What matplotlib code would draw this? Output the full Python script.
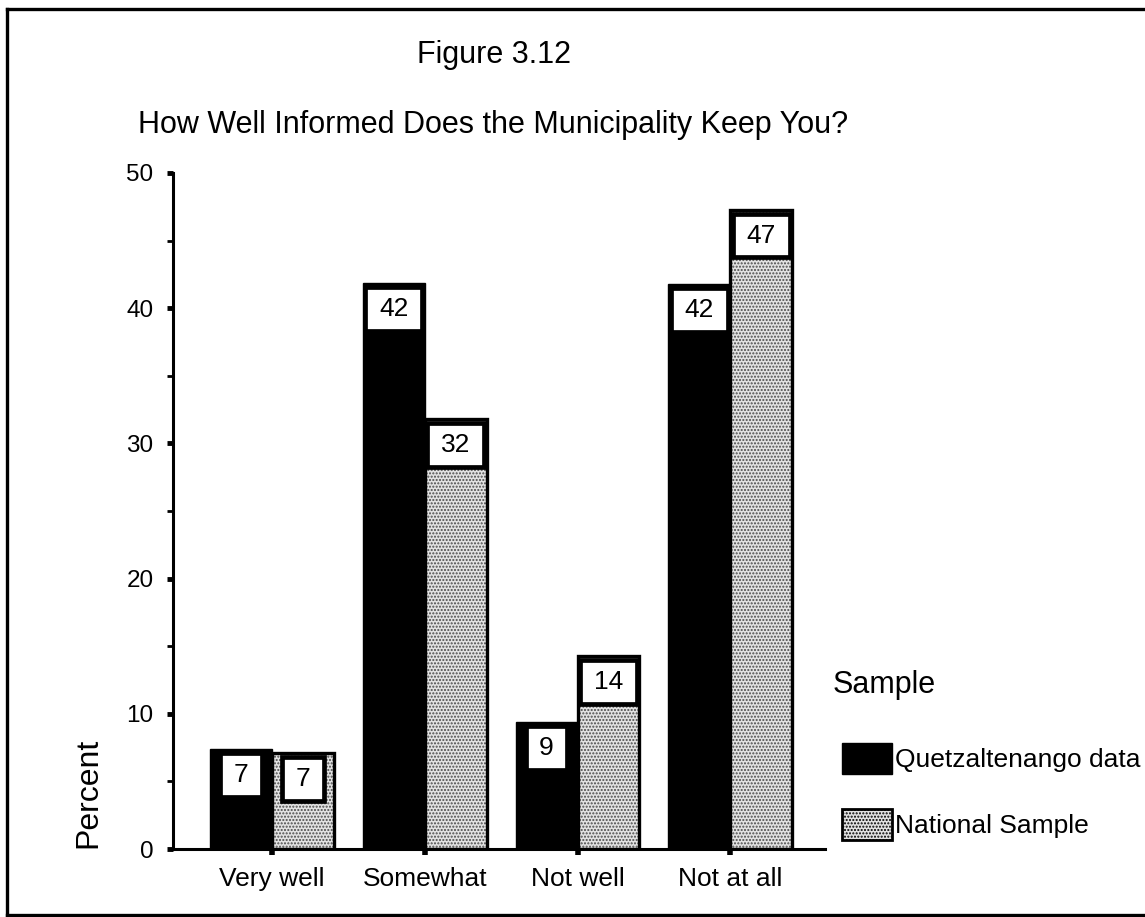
import numpy as np
import matplotlib.pyplot as plt
from matplotlib.patches import Rectangle, Patch
from matplotlib.lines import Line2D

# data
categories = ["Very well", "Somewhat", "Not well", "Not at all"]
quetzaltenango = [7.4, 41.9, 9.4, 41.8]
national = [7.1, 31.8, 14.3, 47.3]
q_labels = [7, 42, 9, 42]
n_labels = [7, 32, 14, 47]
series_names = ["Quetzaltenango data", "National Sample"]

plt.rcParams['font.family'] = ['Liberation Sans', 'DejaVu Sans']

W, H = 1145, 917
fig = plt.figure(figsize=(W / 100, H / 100), dpi=100)
ax = fig.add_axes([173 / W, 1 - 849 / H, 652 / W, 676 / H])

x = np.arange(len(categories))
w = 0.405
stipple_face = '#e2e2e2'
stipple_dots = '#4a4a4a'

ax.bar(x - w / 2, quetzaltenango, w, color='black', edgecolor='black', linewidth=1)
ax.bar(x + w / 2, national, w, color=stipple_face, hatch='.....',
       edgecolor=stipple_dots, linewidth=0)
ax.bar(x + w / 2, national, w, fill=False, edgecolor='black', linewidth=2.4)

# white label boxes at top of each bar
box_h = 3.25
box_gap = 0.30
def label_box(xc, top, lab):
    bw = 0.375 if len(str(lab)) > 1 else 0.27
    y0 = top - box_gap - box_h
    ax.add_patch(Rectangle((xc - bw / 2, y0), bw, box_h, facecolor='white',
                           edgecolor='black', linewidth=3.4, zorder=3))
    ax.text(xc, y0 + box_h / 2, str(lab), ha='center', va='center',
            fontsize=19, zorder=4)

for i in range(len(categories)):
    label_box(x[i] - w / 2, quetzaltenango[i], q_labels[i])
    label_box(x[i] + w / 2, national[i], n_labels[i])

ax.set_xlim(-0.648, 3.62)
ax.set_ylim(0, 50)
ax.set_yticks(range(0, 51, 10))
ax.set_yticks(range(5, 50, 10), minor=True)
ax.set_xticks(x, categories)
ax.tick_params(axis='y', which='major', direction='out', length=4, width=3.5,
               pad=10, labelsize=17.5)
ax.tick_params(axis='y', which='minor', direction='out', length=4, width=2)
ax.tick_params(axis='x', direction='out', length=4, width=4, pad=9, labelsize=19)
for s in ['top', 'right']:
    ax.spines[s].set_visible(False)
for s in ['left', 'bottom']:
    ax.spines[s].set_linewidth(2.2)

ax.set_ylabel("Percent", fontsize=23)
ax.yaxis.set_label_coords(-0.107, 0.083)

fig.text(494 / W, 1 - 63 / H, "Figure 3.12", fontsize=22, ha='center', va='baseline')
fig.text(138 / W, 1 - 133 / H, "How Well Informed Does the Municipality Keep You?",
         fontsize=22, ha='left', va='baseline')
fig.text(833 / W, 1 - 685 / H, "Sample", fontsize=22, ha='left', va='center')

handles = [Patch(facecolor='black', edgecolor='black'),
           Patch(facecolor=stipple_face, edgecolor='black', hatch='.....', linewidth=2)]
ax.legend(handles, series_names, loc='upper left',
          bbox_to_anchor=(842 / W, 1 - 743 / H), bbox_transform=fig.transFigure,
          frameon=False, fontsize=19, handlelength=1.9, handleheight=1.45,
          handletextpad=0.1, labelspacing=1.3, borderpad=0, borderaxespad=0)

# page frame
for xs, ys in [([7, 7], [9, 915]), ([7, W], [9, 9]), ([7, W], [915, 915])]:
    fig.add_artist(Line2D([v / W for v in xs], [1 - v / H for v in ys],
                          color='black', linewidth=2.4, transform=fig.transFigure))

fig.savefig("out.png", dpi=100)
